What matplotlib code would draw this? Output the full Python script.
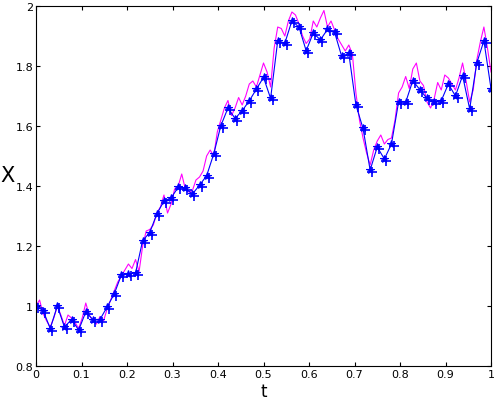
import numpy as np
from matplotlib import pyplot as plt
from matplotlib.transforms import ScaledTranslation

# Fine path (magenta), step 1/128
x_fine = [
    1.00, 1.02, 0.975, 0.95, 0.93, 0.96, 1.00, 0.97, 0.935, 0.97,
    0.96, 0.945, 0.925, 0.96, 1.01, 0.97, 0.95, 0.94, 0.965, 0.95,
    0.99, 1.02, 1.05, 1.08, 1.10, 1.12, 1.14, 1.125, 1.155, 1.115,
    1.20, 1.25, 1.255, 1.27, 1.31, 1.33, 1.37, 1.31, 1.34, 1.39,
    1.40, 1.44, 1.39, 1.38, 1.385, 1.42, 1.43, 1.45, 1.50, 1.52,
    1.50, 1.58, 1.62, 1.66, 1.685, 1.635, 1.66, 1.695, 1.67, 1.70,
    1.74, 1.75, 1.73, 1.77, 1.81, 1.78, 1.73, 1.86, 1.93, 1.925,
    1.90, 1.95, 1.98, 1.97, 1.94, 1.90, 1.875, 1.89, 1.95, 1.93,
    1.96, 1.985, 1.93, 1.95, 1.92, 1.89, 1.87, 1.85, 1.87, 1.84,
    1.71, 1.62, 1.56, 1.51, 1.47, 1.52, 1.55, 1.57, 1.54, 1.555,
    1.56, 1.62, 1.71, 1.73, 1.765, 1.725, 1.79, 1.81, 1.75, 1.735,
    1.68, 1.66, 1.69, 1.745, 1.72, 1.77, 1.76, 1.74, 1.72, 1.76,
    1.81, 1.75, 1.68, 1.72, 1.82, 1.88, 1.93, 1.86, 1.78,
]

# Coarse path (blue markers), step 1/64
x_coarse = [
    1.00, 0.985, 0.925, 1.00, 0.93, 0.955, 0.92, 0.98, 0.955, 0.955,
    0.997, 1.04, 1.103, 1.107, 1.11, 1.218, 1.245, 1.307, 1.35, 1.36,
    1.396, 1.392, 1.373, 1.403, 1.434, 1.507, 1.601, 1.66, 1.625, 1.651,
    1.684, 1.723, 1.762, 1.692, 1.884, 1.876, 1.951, 1.929, 1.851, 1.91,
    1.887, 1.922, 1.912, 1.832, 1.842, 1.67, 1.592, 1.453, 1.53, 1.49,
    1.54, 1.68, 1.679, 1.751, 1.721, 1.692, 1.681, 1.684, 1.74, 1.70,
    1.768, 1.657, 1.81, 1.884, 1.725,
]

t_fine = np.linspace(0, 1, len(x_fine))
t_coarse = np.linspace(0, 1, len(x_coarse))

fig = plt.figure(figsize=(5, 4.02), dpi=100)
ax = fig.add_axes([0.072, 0.087, 0.91, 0.8956])

ax.plot(t_fine, x_fine, color=(1, 0, 1), linewidth=0.8)
ax.plot(t_coarse, x_coarse, color=(0, 0, 1), linewidth=0.8,
        marker="*", markersize=5.5, markeredgewidth=0.8)

# second marker set, slightly offset like the original
offset = ax.transData + ScaledTranslation(1.5 / 72, -1.5 / 72, fig.dpi_scale_trans)
ax.plot(t_coarse, x_coarse, linestyle="none", color=(0, 0, 1),
        marker="+", markersize=6.5, markeredgewidth=1.2, transform=offset)

ax.set_xlim(0, 1)
ax.set_ylim(0.8, 2)
ax.set_xticks(np.arange(0, 1.01, 0.1))
ax.set_xticklabels(["0", "0.1", "0.2", "0.3", "0.4", "0.5", "0.6", "0.7", "0.8", "0.9", "1"])
ax.set_yticks(np.arange(0.8, 2.01, 0.2))
ax.set_yticklabels(["0.8", "1", "1.2", "1.4", "1.6", "1.8", "2"])
ax.tick_params(direction="in", top=True, right=True, labelsize=8, length=3, pad=2)

ax.set_xlabel("t", fontsize=12, va="center")
ax.xaxis.set_label_coords(0.5, -0.07)
ax.set_ylabel("X", fontsize=15, rotation=0, ha="center", va="center")
ax.yaxis.set_label_coords(-0.063, 0.53)

fig.savefig("out.png", dpi=100)
